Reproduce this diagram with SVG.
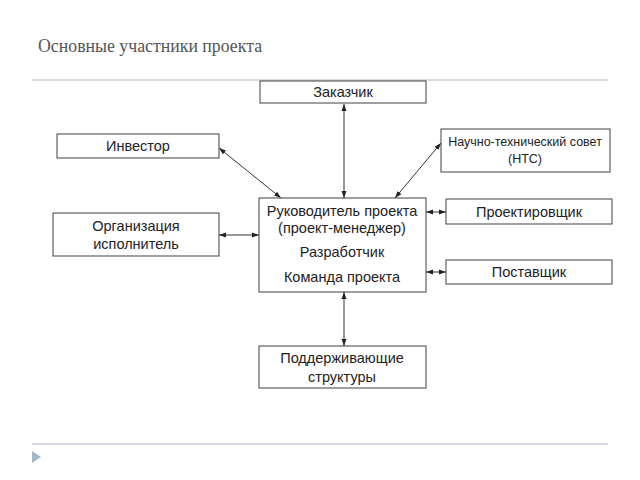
<svg xmlns="http://www.w3.org/2000/svg" width="640" height="480" viewBox="0 0 640 480">
<style>
.box{fill:#fff;stroke:#404040;stroke-width:1}
.t{font-family:"Liberation Sans",Arial,sans-serif;font-size:14.5px;fill:#222;text-anchor:middle}
.s{font-size:12.5px}
.c{stroke:#333;stroke-width:1;fill:none;marker-start:url(#a);marker-end:url(#a)}
.rule{stroke:#d3d9de;stroke-width:2}
</style>
<defs>
<marker id="a" viewBox="0 0 10 10" refX="10" refY="5" markerWidth="7" markerHeight="7" orient="auto-start-reverse" markerUnits="userSpaceOnUse">
<path d="M0,1.5 L10,5 L0,8.5 z" fill="#222"/>
</marker>
</defs>
<rect width="640" height="480" fill="#fff"/>
<text x="38" y="52" font-family="Liberation Serif,serif" font-size="17.8" fill="#555">Основные участники проекта</text>
<line class="rule" x1="32" y1="80" x2="608" y2="80"/>
<line class="rule" x1="32" y1="444" x2="608" y2="444"/>
<path d="M32,451 L41,457 L32,463 z" fill="#a3b5c6"/>
<g id="connectors">
<line class="c" x1="344" y1="104" x2="344" y2="198"/>
<line class="c" x1="219" y1="148" x2="281" y2="198"/>
<line class="c" x1="219" y1="235" x2="259" y2="235"/>
<line class="c" x1="441" y1="143" x2="395" y2="198"/>
<line class="c" x1="426" y1="212" x2="446" y2="212"/>
<line class="c" x1="426" y1="272" x2="446" y2="272"/>
<line class="c" x1="344" y1="292" x2="344" y2="346"/>
</g>
<g id="zakazchik"><rect class="box" x="260" y="81" width="166" height="22"/><text class="t" x="343" y="97">Заказчик</text></g>
<g id="investor"><rect class="box" x="57" y="134" width="162" height="24"/><text class="t" x="138" y="151">Инвестор</text></g>
<g id="org"><rect class="box" x="53" y="213" width="166" height="43"/><text class="t" x="136" y="231">Организация</text><text class="t" x="136" y="249">исполнитель</text></g>
<g id="rukovoditel"><rect class="box" x="259" y="198" width="167" height="94"/><text class="t" x="342" y="216">Руководитель проекта</text><text class="t" x="342" y="233">(проект-менеджер)</text><text class="t" x="342" y="257">Разработчик</text><text class="t" x="342" y="282">Команда проекта</text></g>
<g id="nts"><rect class="box" x="441" y="129" width="169" height="43"/><text class="t s" x="525" y="146">Научно-технический совет</text><text class="t s" x="525" y="163">(НТС)</text></g>
<g id="proektirovshik"><rect class="box" x="446" y="199" width="166" height="25"/><text class="t" x="529" y="217">Проектировщик</text></g>
<g id="postavshik"><rect class="box" x="446" y="260" width="166" height="24"/><text class="t" x="529" y="277">Поставщик</text></g>
<g id="podderzh"><rect class="box" x="259" y="346" width="167" height="42"/><text class="t" x="342" y="363">Поддерживающие</text><text class="t" x="342" y="382">структуры</text></g>
</svg>
